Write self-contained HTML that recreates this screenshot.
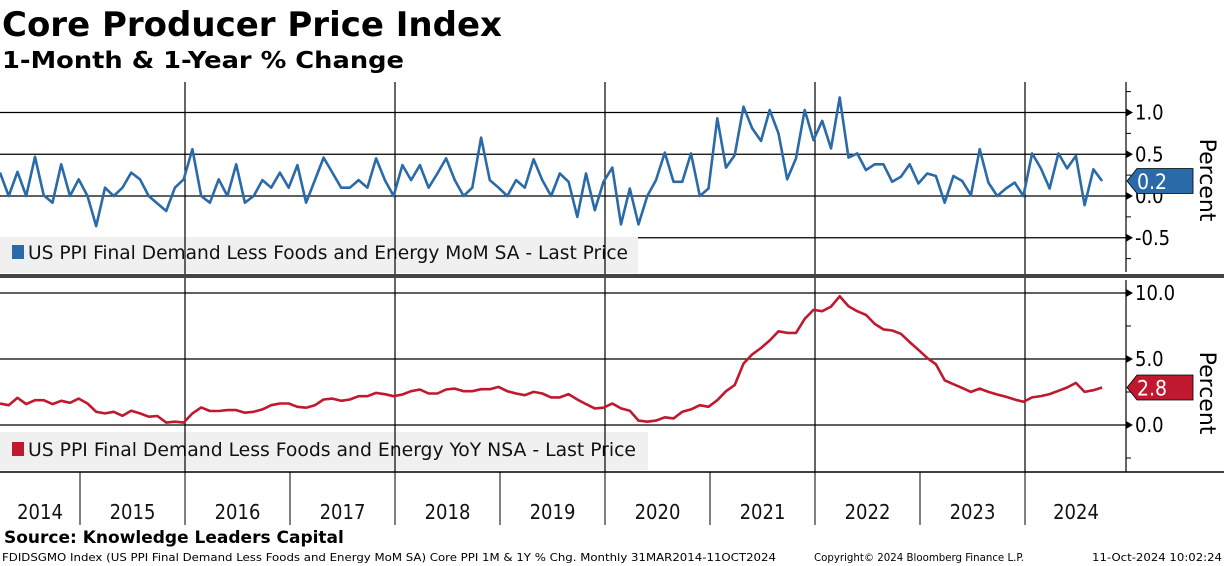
<!DOCTYPE html>
<html><head><meta charset="utf-8"><style>
body{margin:0;background:#fff;width:1224px;height:566px;overflow:hidden;font-family:"Liberation Sans","DejaVu Sans",sans-serif}
svg{position:absolute;left:0;top:0}
</style></head><body>
<svg id="c" width="1224" height="566" xmlns="http://www.w3.org/2000/svg">
<text x="2" y="36" font-size="34" font-weight="bold" fill="#000" font-family="DejaVu Sans, sans-serif">Core Producer Price Index</text>
<text x="2" y="68" font-size="23" font-weight="bold" fill="#000" font-family="DejaVu Sans, sans-serif" textLength="402" lengthAdjust="spacingAndGlyphs">1-Month &amp; 1-Year % Change</text>
<g id="grid"></g>
<rect x="0" y="237" width="638" height="36" fill="#f0f0f0"/>
<rect x="12" y="245" width="12" height="14" fill="#2a6aa8"/>
<text x="28" y="259" font-size="19" fill="#111" font-family="DejaVu Sans Condensed, DejaVu Sans, sans-serif" textLength="600" lengthAdjust="spacingAndGlyphs">US PPI Final Demand Less Foods and Energy MoM SA - Last Price</text>
<rect x="0" y="432" width="648" height="38" fill="#f0f0f0"/>
<rect x="12" y="442" width="12" height="14" fill="#c0182f"/>
<text x="28" y="456" font-size="19" fill="#111" font-family="DejaVu Sans Condensed, DejaVu Sans, sans-serif" textLength="608" lengthAdjust="spacingAndGlyphs">US PPI Final Demand Less Foods and Energy YoY NSA - Last Price</text>
<g id="vlines"></g>
<g id="series"></g>
<rect x="0" y="274" width="1224" height="4" fill="#444"/>
<g id="axes"></g>
<text x="4" y="543" font-size="17" font-weight="bold" fill="#000" font-family="DejaVu Sans, sans-serif">Source: Knowledge Leaders Capital</text>
<text x="2" y="561" font-size="11" fill="#000" font-family="DejaVu Sans Condensed, DejaVu Sans, sans-serif" textLength="774" lengthAdjust="spacingAndGlyphs">FDIDSGMO Index (US PPI Final Demand Less Foods and Energy MoM SA) Core PPI 1M &amp; 1Y % Chg.  Monthly 31MAR2014-11OCT2024</text>
<text x="814" y="561" font-size="11" fill="#000" font-family="DejaVu Sans Condensed, DejaVu Sans, sans-serif" textLength="210" lengthAdjust="spacingAndGlyphs">Copyright© 2024 Bloomberg Finance L.P.</text>
<text x="1092" y="561" font-size="11" fill="#000" font-family="DejaVu Sans Condensed, DejaVu Sans, sans-serif" textLength="130" lengthAdjust="spacingAndGlyphs">11-Oct-2024 10:02:24</text>
</svg>
<script>
const momValues=[0.28,0,0.29,0,0.47,0.01,-0.08,0.38,0,0.2,0,-0.36,0.1,0,0.1,0.28,0.2,0,-0.09,-0.18,0.1,0.2,0.56,0,-0.08,0.2,0,0.38,-0.08,0,0.19,0.1,0.28,0.1,0.37,-0.08,0.19,0.46,0.28,0.1,0.1,0.19,0.1,0.45,0.19,0,
0.37,0.19,0.37,0.1,0.27,0.45,0.19,0,0.1,0.7,0.19,0.1,0,0.19,0.1,0.44,0.19,0,0.27,0.17,-0.25,0.27,-0.17,0.17,0.34,-0.34,0.09,-0.34,0,0.19,0.52,0.17,0.17,0.51,0,0.09,0.93,0.34,0.49,1.07,0.81,0.66,1.03,0.75,0.2,
0.45,1.03,0.67,0.9,0.57,1.18,0.46,0.51,0.31,0.38,0.38,0.17,0.23,0.38,0.15,0.27,0.24,-0.08,0.24,0.18,0.01,0.56,0.16,0,0.09,0.16,0,0.51,0.33,0.09,0.51,0.33,0.48,-0.11,0.32,0.18];
const yoyValues=[1.63,1.5,2.06,1.58,1.88,1.88,1.58,1.83,1.68,2.0,1.63,1.0,0.88,1.0,0.7,1.08,0.88,0.63,0.68,0.18,0.25,0.18,0.88,1.33,1.06,1.06,1.13,1.13,0.93,1.0,1.18,1.5,1.63,1.63,1.38,1.31,1.5,1.93,2.0,1.83,1.93,2.18,2.18,2.43,2.33,2.18,
2.31,2.56,2.69,2.39,2.39,2.69,2.76,2.56,2.56,2.71,2.71,2.89,2.56,2.39,2.26,2.51,2.39,2.09,2.09,2.34,1.93,1.58,1.26,1.31,1.63,1.26,1.08,0.33,0.25,0.33,0.58,0.5,1.0,1.18,1.5,1.38,1.88,2.56,3.02,4.65,5.35,5.83,6.4,7.1,6.98,
6.98,8.04,8.72,8.62,8.97,9.75,9.0,8.62,8.34,7.66,7.24,7.16,6.91,6.28,5.7,5.08,4.6,3.39,3.09,2.81,2.51,2.76,2.51,2.31,2.14,1.93,1.76,2.09,2.19,2.34,2.59,2.84,3.19,2.51,2.64,2.84];
const yearLabels=["2014","2015","2016","2017","2018","2019","2020","2021","2022","2023","2024"];
const momTicks=[1.0,0.5,0.0,-0.5];
const momTickLabels=["1.0","0.5","0.0","-0.5"];
const yoyTicks=[10,5,0];
const yoyTickLabels=["10.0","5.0","0.0"];

const NS="http://www.w3.org/2000/svg";
function mk(p,t,a){const e=document.createElementNS(NS,t);for(const k in a)e.setAttribute(k,a[k]);p.appendChild(e);return e;}
const xi=i=>i*8.747;
const yearX=k=>80+105*k; // boundary before year 2015+k
const yMom=v=>196-v*83.5;
const yYoy=v=>425-v*13.2;
const AX=1126;
const grid=document.getElementById('grid'),vl=document.getElementById('vlines'),ser=document.getElementById('series'),ax=document.getElementById('axes');

momTicks.forEach((v,k)=>{const l=mk(grid,'line',{x1:0,x2:AX,y1:yMom(v),y2:yMom(v),stroke:'#000','stroke-width':1.3});

});
yoyTicks.forEach(v=>{const l=mk(grid,'line',{x1:0,x2:AX,y1:yYoy(v),y2:yYoy(v),stroke:'#000','stroke-width':1.3});

});
for(let k=0;k<10;k++){const x=yearX(k);
 if(k%2==1){const l=mk(vl,'line',{x1:x,x2:x,y1:82,y2:472,stroke:'#000','stroke-width':1.2});
 
 }
 const t=mk(vl,'line',{x1:x,x2:x,y1:472,y2:525,stroke:'#000','stroke-width':1});
 
 }
yearLabels.forEach((y,k)=>{let x;if(k==0)x=40;else if(k==10)x=1076;else x=yearX(k-1)+52.5;
 const t=mk(ax,'text',{x:x,y:519,'font-size':20,'text-anchor':'middle',fill:'#111','font-family':'DejaVu Sans Condensed, DejaVu Sans, sans-serif'});t.textContent=y;
 
 });
mk(ax,'line',{x1:0,x2:1224,y1:472,y2:472,stroke:'#000','stroke-width':1.5});

function path(vals,yf){return vals.map((v,i)=>(i?'L':'M')+xi(i).toFixed(1)+','+yf(v).toFixed(1)).join('');}
const pm=mk(ser,'path',{d:path(momValues,yMom),fill:'none',stroke:'#2a6aa8','stroke-width':2.6,'stroke-linejoin':'round'});


const py=mk(ser,'path',{d:path(yoyValues,yYoy),fill:'none',stroke:'#c0182f','stroke-width':2.6,'stroke-linejoin':'round'});



mk(ax,'line',{x1:AX,x2:AX,y1:82,y2:272,stroke:'#000','stroke-width':1.2});
mk(ax,'line',{x1:AX,x2:AX,y1:280,y2:472,stroke:'#000','stroke-width':1.2});
for(let v=-0.75;v<=1.3;v+=0.25){const y=yMom(v);mk(ax,'line',{x1:AX,x2:AX+5,y1:y,y2:y,stroke:'#000'});}
for(let v=-2.5;v<=10.8;v+=2.5){const y=yYoy(v);mk(ax,'line',{x1:AX,x2:AX+5,y1:y,y2:y,stroke:'#000'});}
function ticks(vals,labels,yf,name){vals.forEach((v,k)=>{const y=yf(v);
 mk(ax,'path',{d:`M${AX},${y-4}L${AX+7},${y}L${AX},${y+4}Z`,fill:'#000'});
 const t=mk(ax,'text',{x:AX+9,y:y+7,'font-size':20,fill:'#000','font-family':'DejaVu Sans Condensed, DejaVu Sans, sans-serif'});t.textContent=labels[k];
 
 });}
ticks(momTicks,momTickLabels,yMom,'mom-tick-label');
ticks(yoyTicks,yoyTickLabels,yYoy,'yoy-tick-label');
function axTitle(y,name){const t=mk(ax,'text',{x:1200,y:y,'font-size':22,'text-anchor':'middle',fill:'#000',transform:`rotate(90 1200 ${y})`,'font-family':'DejaVu Sans, sans-serif'});t.textContent='Percent';
 
 }
axTitle(180,'mom-axis-title');axTitle(393,'yoy-axis-title');
function tag(v,yf,col,name){const y=yf(v);
 const g=mk(ax,'g',{});
 
 
 mk(g,'path',{d:`M1127,${y}L1137,${y-12.5}L1193,${y-12.5}L1193,${y+12.5}L1137,${y+12.5}Z`,fill:col,stroke:'#000','stroke-width':0.8});
 const t=mk(g,'text',{x:1137,y:y+8,'font-size':21,fill:'#fff','font-family':'DejaVu Sans Condensed, DejaVu Sans, sans-serif'});t.textContent=v.toFixed(1);}
tag(momValues[momValues.length-1],yMom,'#2a6aa8','mom-last-value-tag');
tag(yoyValues[yoyValues.length-1],yYoy,'#c0182f','yoy-last-value-tag');
</script>
</body></html>
